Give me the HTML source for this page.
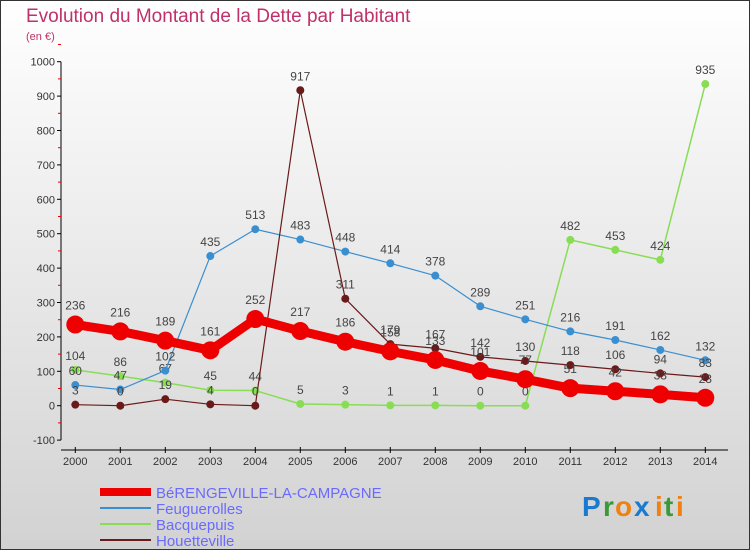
<!DOCTYPE html>
<html><head><meta charset="utf-8"><style>
body{margin:0;width:750px;height:550px;overflow:hidden;font-family:"Liberation Sans",sans-serif}
svg{display:block}
</style></head><body>
<svg id="c" width="750" height="550">
<defs><linearGradient id="bg" x1="0" y1="0" x2="0" y2="1"><stop offset="0" stop-color="#ffffff"/><stop offset="1" stop-color="#d2d2d2"/></linearGradient></defs>
<rect x="0.5" y="0.5" width="749" height="549" fill="url(#bg)" stroke="#333"/>
<text x="26" y="22" font-size="19" fill="#c0306a">Evolution du Montant de la Dette par Habitant</text>
<text x="26" y="40" font-size="11" fill="#c0306a">(en €)</text>
<g id="axes"></g><g id="series"></g><g id="legend"></g>
<g font-size="28" font-weight="bold">
<text x="582" y="516" fill="#1a7ad0">P</text><text x="603" y="516" fill="#3a9a3a">r</text><text x="615" y="516" fill="#f08010">o</text><text x="634" y="516" fill="#1a7ad0">x</text><text x="655" y="516" fill="#f08010">i</text><text x="664" y="516" fill="#3a9a3a">t</text><text x="676" y="516" fill="#f08010">i</text>
</g>
</svg>
<script>
const years=[2000,2001,2002,2003,2004,2005,2006,2007,2008,2009,2010,2011,2012,2013,2014];
const yTicks=[-100,0,100,200,300,400,500,600,700,800,900,1000];
const berengeville=[236,216,189,161,252,217,186,158,133,101,77,51,42,33,23];
const feuguerolles=[60,47,102,435,513,483,448,414,378,289,251,216,191,162,132];
const bacquepuis=[104,86,67,45,44,5,3,1,1,0,0,482,453,424,935];
const houetteville=[3,0,19,4,0,917,311,179,167,142,130,118,106,94,83];
const NS="http://www.w3.org/2000/svg";
const X=i=>75.3+i*45;
const Y=v=>405.7-v*0.344;
function mk(t,a,p){const e=document.createElementNS(NS,t);for(const k in a)e.setAttribute(k,a[k]);p.appendChild(e);return e;}
const ax=document.getElementById('axes');
const yl=mk('line',{x1:61,y1:Y(1000),x2:61,y2:Y(-100),stroke:'#000'},ax);


const xl=mk('line',{x1:61,y1:450,x2:728,y2:450,stroke:'#000'},ax);


yTicks.forEach(v=>{
 mk('line',{x1:57,y1:Y(v),x2:61,y2:Y(v),stroke:'#000'},ax);
 mk('line',{x1:58,y1:Y(v+50),x2:61,y2:Y(v+50),stroke:'#e00'},ax);
 const t=mk('text',{x:55,y:Y(v)+4,'font-size':11,'text-anchor':'end',fill:'#333'},ax);t.textContent=v;
 
 
});
years.forEach((yr,i)=>{
 mk('line',{x1:X(i),y1:447,x2:X(i),y2:453,stroke:'#000'},ax);
 const t=mk('text',{x:X(i),y:465,'font-size':11,'text-anchor':'middle',fill:'#333'},ax);t.textContent=yr;
 
 
});
const sg=document.getElementById('series');
const defs=[
 {d:bacquepuis,c:'#88dd55',w:1.5,r:4,n:'bacquepuis',label:'Bacquepuis'},
 {d:feuguerolles,c:'#3a8fd0',w:1.2,r:4,n:'feuguerolles',label:'Feuguerolles'},
 {d:houetteville,c:'#6b1a1a',w:1.2,r:4,n:'houetteville',label:'Houetteville'},
 {d:berengeville,c:'#ee0000',w:9,r:9,n:'berengeville',label:'BéRENGEVILLE-LA-CAMPAGNE'}];
defs.forEach(s=>{
 const g=mk('g',{},sg);
 
 
 const pl=mk('polyline',{points:s.d.map((v,i)=>X(i)+','+Y(v)).join(' '),fill:'none',stroke:s.c,'stroke-width':s.w,'stroke-linejoin':'round'},g);
 
 
 s.d.forEach((v,i)=>{
  const c=mk('circle',{cx:X(i),cy:Y(v),r:s.r,fill:s.c},g);
  
  
  const t=mk('text',{x:X(i),y:Y(v)-(s.r+6),'font-size':12,'text-anchor':'middle',fill:'#444'},g);t.textContent=v;
  
  
 });
});
const lg=document.getElementById('legend');
[defs[3],defs[1],defs[0],defs[2]].forEach((s,k)=>{
 const y=492+k*16;
 const g=mk('g',{},lg);
 
 
 mk('line',{x1:100,y1:y,x2:151,y2:y,stroke:s.c,'stroke-width':k==0?8:2},g);
 const t=mk('text',{x:156,y:y+6,'font-size':15,fill:'#6a6aff'},g);t.textContent=s.label;
});
</script>
</body></html>
